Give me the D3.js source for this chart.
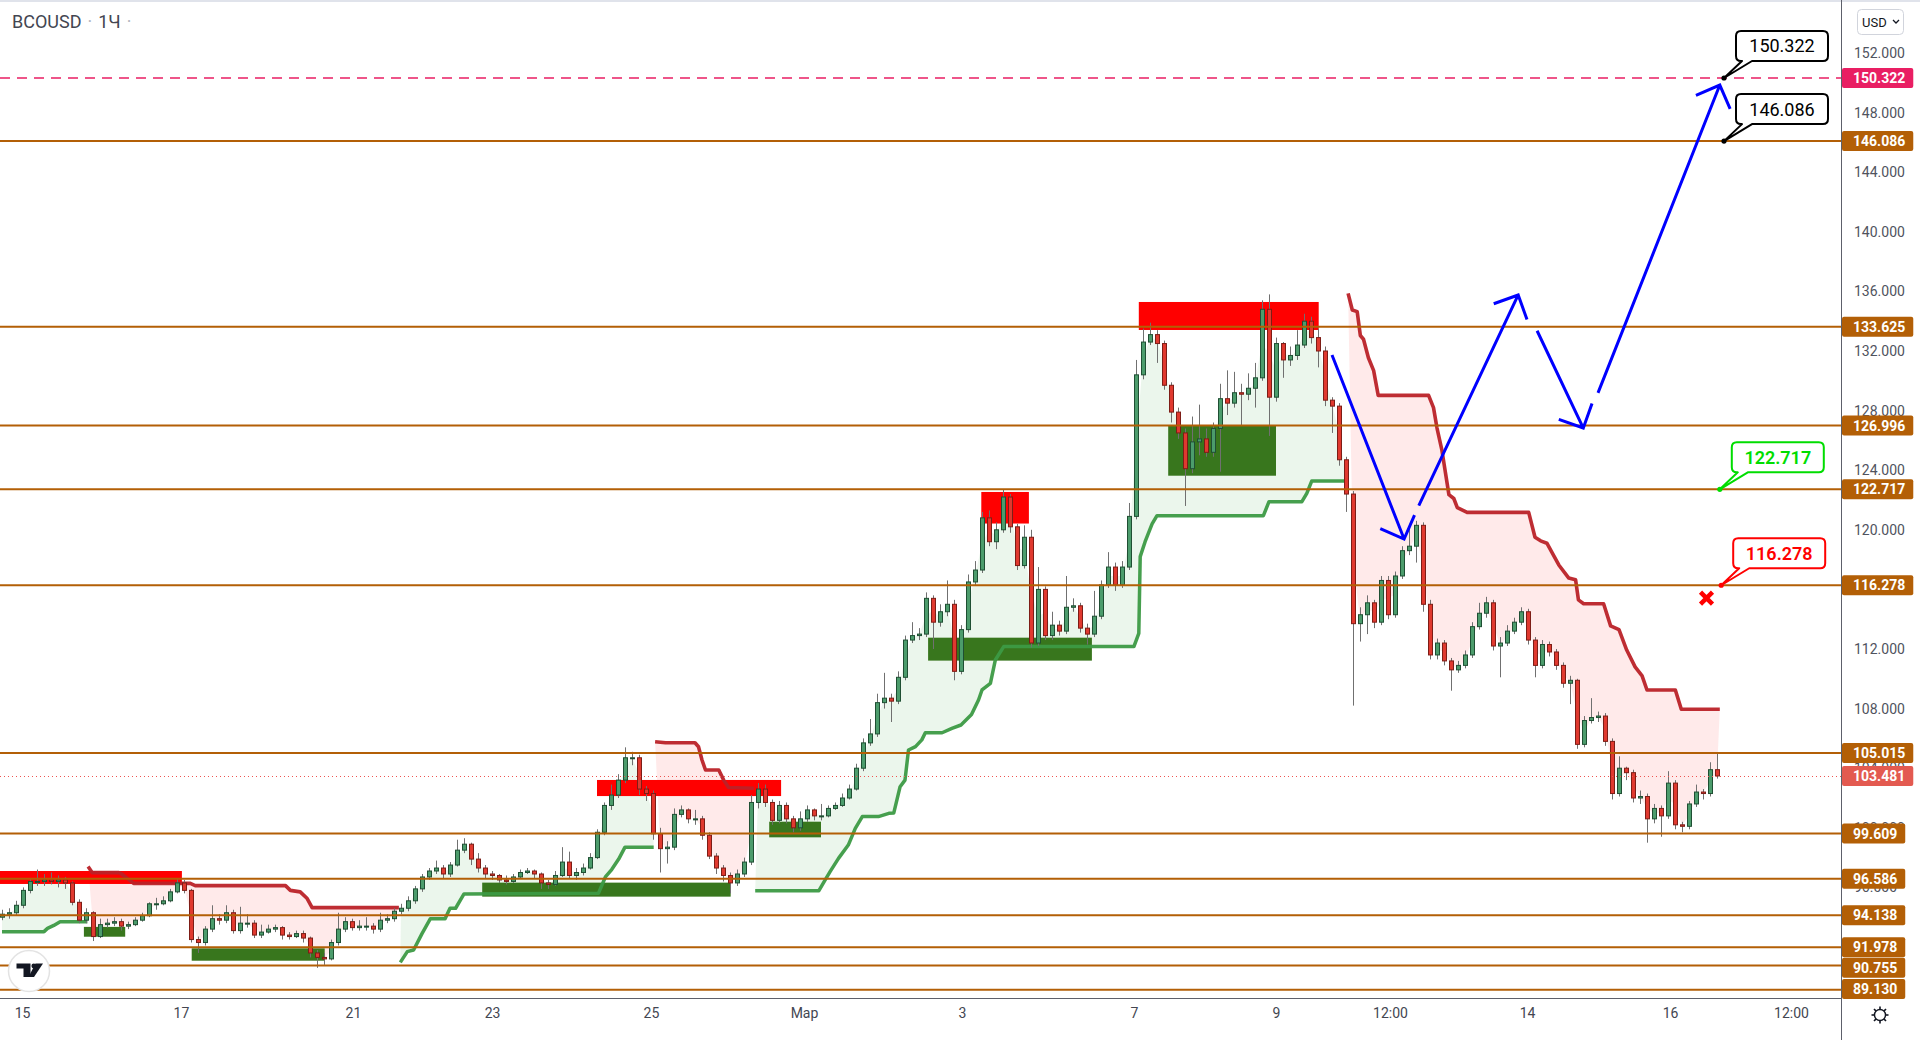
<!DOCTYPE html>
<html><head><meta charset="utf-8"><title>BCOUSD 1H</title>
<script src="https://cdn.jsdelivr.net/npm/d3@7/dist/d3.min.js"></script>
<style>
html,body{margin:0;padding:0;background:#fff;overflow:hidden;}
svg{display:block;font-family:Roboto,'Noto Sans',sans-serif;}
</style></head><body>
<svg id="chart" width="1920" height="1040"></svg>
<script>
// ---------- DATA (2-hour bars) ----------
const firstOpen = 94.0;
const closes = [
94.2,94.3,94.8,95.8,96.4,96.4,96.5,96.4,96.5,96.3,
95.0,93.8,94.3,92.7,93.5,93.6,93.7,93.4,93.5,93.8,
94.1,94.9,94.9,95.1,95.7,96.3,95.8,92.5,92.3,93.2,
93.9,93.8,94.3,93.1,93.6,93.6,92.8,93.0,93.2,93.3,
92.8,92.7,92.9,92.6,91.6,91.3,91.2,92.3,93.2,93.7,
93.3,93.4,93.4,93.2,93.8,93.9,94.4,94.6,95.1,95.9,
96.7,97.1,97.3,96.9,97.5,98.5,98.9,97.9,97.3,96.9,
96.8,96.5,96.4,96.7,97.0,97.1,96.9,96.3,96.2,96.8,
97.7,96.8,97.0,97.3,98.0,99.7,101.5,102.2,103.2,104.7,
104.7,102.6,102.3,99.6,98.6,98.7,100.9,101.2,100.6,100.6,
99.5,98.1,97.3,96.8,96.3,96.9,97.7,101.7,102.6,101.7,
100.5,101.5,100.6,100.0,100.6,101.2,100.8,100.8,101.3,101.5,
102.0,102.6,104.0,105.7,106.3,108.4,108.7,108.5,110.1,112.6,
112.9,113.0,115.4,113.8,114.5,115.0,110.5,113.3,116.5,117.3,
120.8,119.2,120.0,122.2,120.2,117.6,119.5,112.4,116.0,112.9,
113.6,113.2,114.8,114.9,113.4,113.0,114.2,116.3,117.5,116.3,
117.5,120.9,130.4,132.6,133.1,132.5,129.7,127.9,126.5,124.1,
125.9,126.1,125.2,126.8,128.8,128.5,129.2,129.1,129.5,130.2,
134.8,128.9,132.5,131.4,131.7,132.4,134.0,132.9,132.0,128.7,
128.3,124.7,122.4,113.7,114.3,115.1,113.8,116.6,114.3,116.9,
118.6,118.9,120.3,115.0,111.6,112.4,111.2,110.6,110.9,111.6,
113.5,114.4,115.1,112.2,112.4,113.2,113.8,114.5,112.6,110.9,
112.3,111.8,110.9,109.7,109.9,105.6,107.2,107.4,107.5,105.8,
102.3,104.0,103.7,102.0,102.1,100.6,101.3,100.8,103.0,100.2,
100.1,101.6,102.4,102.3,103.9,103.48];
const highs = [
94.5,94.6,95.1,96.0,96.6,97.2,96.9,97.0,96.8,96.7,
96.4,95.2,94.6,94.4,93.9,93.9,94.0,93.9,93.7,94.0,
94.3,95.0,95.3,95.4,95.9,96.6,96.5,95.9,92.7,93.4,
94.8,94.2,94.8,94.5,94.7,94.2,93.8,93.5,93.5,93.5,
93.4,93.0,93.1,93.1,92.7,91.8,91.6,92.5,94.3,94.0,
93.9,93.8,94.0,93.6,94.3,94.2,94.6,94.9,95.4,96.1,
96.9,97.3,97.8,97.5,97.7,99.2,99.3,99.0,98.3,97.5,
97.1,96.9,96.8,96.9,97.2,97.3,97.2,97.0,96.5,97.1,
98.7,98.4,97.3,97.6,98.3,99.9,101.7,102.9,103.6,105.4,
105.1,104.9,102.8,102.5,100.0,99.1,101.3,101.5,101.3,101.2,
100.8,99.7,98.3,97.5,97.0,97.2,98.0,102.2,103.0,102.9,
101.9,101.8,101.7,100.8,101.1,101.5,101.3,101.6,101.5,101.7,
102.3,102.9,104.3,106.0,107.3,109.0,110.4,109.0,110.5,112.9,
113.8,113.4,115.8,115.6,115.0,116.6,115.3,113.6,117.0,117.9,
121.2,121.3,120.5,122.7,122.4,120.4,120.3,120.0,117.5,116.2,
114.5,113.9,116.9,115.4,115.1,113.7,115.9,116.6,118.5,117.8,
117.9,121.8,131.4,133.5,133.9,133.4,132.7,129.9,128.2,126.8,
127.6,128.4,126.8,127.2,129.8,130.7,130.6,129.8,130.5,131.2,
135.4,135.8,132.9,132.6,132.3,133.4,134.5,134.3,133.5,132.3,
128.9,128.5,124.9,122.6,114.8,115.6,115.3,116.9,116.9,117.2,
118.9,120.4,120.6,120.5,115.3,112.7,112.6,111.4,111.2,111.9,
113.8,115.1,115.5,115.3,112.8,113.6,114.1,114.8,114.7,112.8,
112.6,112.5,112.0,111.1,110.2,110.0,107.5,108.7,107.8,107.7,
106.0,104.8,104.1,103.9,102.5,102.3,101.6,101.5,103.8,103.2,
100.4,101.8,102.9,102.6,104.4,105.0];
const lows = [
93.8,93.9,94.1,94.6,95.6,96.1,96.1,96.2,96.0,95.9,
94.8,93.6,93.6,92.4,92.6,93.3,93.4,93.1,93.2,93.4,
93.7,94.0,94.5,94.8,95.0,95.6,95.6,92.3,91.6,92.1,
93.0,93.5,93.6,92.9,92.9,93.3,92.6,92.6,92.9,93.0,
92.5,92.5,92.6,92.3,91.3,90.6,90.8,91.1,92.1,93.0,
93.1,93.1,93.1,92.9,93.0,93.6,93.7,94.2,94.4,94.9,
95.7,96.5,96.9,96.6,96.7,97.4,98.3,97.5,97.0,96.6,
96.5,96.3,96.2,96.3,96.6,96.9,96.6,95.9,95.9,96.1,
96.7,96.6,96.5,96.8,97.2,97.9,99.5,101.2,102.0,103.0,
104.2,102.2,101.8,99.2,97.0,97.6,98.5,100.7,100.3,100.2,
99.2,97.9,96.9,96.4,95.6,96.1,96.7,97.5,101.3,101.4,
100.2,100.3,100.3,99.7,99.8,100.4,100.5,100.5,100.7,101.2,
101.4,101.9,102.5,103.8,105.5,106.1,108.0,107.1,108.3,109.9,
112.4,112.6,112.8,112.0,113.5,114.2,109.9,110.3,113.1,116.3,
117.1,118.9,118.7,119.8,119.8,117.3,117.4,112.1,112.2,112.6,
112.6,112.9,113.0,114.5,113.1,112.3,112.8,114.0,116.1,115.9,
116.1,117.3,120.7,130.1,132.4,131.2,129.4,127.2,126.1,121.6,
123.8,125.0,124.9,124.9,123.9,127.7,128.2,127.0,128.7,128.2,
130.0,126.3,128.6,130.2,131.0,131.4,132.2,132.5,130.9,128.3,
126.5,124.3,121.2,108.2,112.5,113.0,113.4,113.6,114.0,114.1,
116.7,118.3,117.8,114.5,111.3,111.3,110.9,109.2,110.4,110.7,
111.4,113.3,114.1,111.9,110.1,112.2,113.0,113.6,112.3,110.1,
110.7,111.5,110.6,109.4,108.3,105.3,105.4,107.0,107.1,105.5,
101.9,102.1,103.2,101.7,101.6,99.0,100.3,99.4,100.6,99.9,
99.7,99.9,101.4,101.9,102.1,103.3];

// horizontal levels
const levels = [146.086,133.625,126.996,122.717,116.278,105.015,99.609,96.586,94.138,91.978,90.755,89.130];
const targetLevel = 150.322;
const lastPrice = 103.481;

// axis ticks (92 and 116 sit fully under level labels in the reference)
const yTicks = [96,100,104,108,112,120,124,128,132,136,140,144,148,152];
const xTickLabels = ["15","17","21","23","25","Мар","3","7","9","12:00","14","16","12:00"];
const xTickIdx = [2.86,25.57,50.14,70.0,92.71,114.57,137.14,161.71,182.0,198.29,217.86,238.29,255.57];

// zones: [startBar, endBar, lowPrice, highPrice]
const supplyZones = [[-0.3,25.7,96.23,97.10],[85.0,111.3,102.13,103.21],[139.9,146.7,120.42,122.54],[162.4,188.1,133.41,135.29]];
const demandZones = [[11.7,17.6,92.69,93.35],[27.1,46.1,91.08,91.91],[68.6,104.1,95.38,96.32],[109.6,117.0,99.36,100.41],[132.3,155.7,111.22,112.76],[166.6,182.0,123.63,126.99]];

// trailing stop segments [bar, price]
const greenStops = [
 [[0,93.03],[6,93.03],[6.5,93.25],[7.4,93.45],[8.3,93.7],[12.2,93.7]],
 [[56.9,90.97],[57.9,91.69],[58.8,91.8],[60,92.9],[61.2,93.9],[63.3,93.9],[64,94.6],[64.8,94.6],[66,95.56],[85.2,95.6],[86.2,96.7],[87.1,97.2],[88.1,97.9],[89.0,98.7],[93.1,98.7]],
 [[107.6,95.78],[116.7,95.78],[117.6,96.5],[118.3,97.06],[119.5,97.95],[120.9,98.84],[121.9,99.96],[122.9,100.75],[125.2,100.75],[126.7,100.97],[127.4,101.0],[128.3,102.76],[129.0,103.2],[129.5,105.22],[130.5,105.45],[131.4,105.9],[131.9,106.38],[134.3,106.38],[135.7,106.67],[137.0,106.9],[138.5,107.6],[139.5,108.58],[140.0,109.25],[141.2,109.7],[141.9,111.26],[143.1,112.16],[161.7,112.16],[162.4,113.05],[162.6,118.2],[163.3,119.2],[164.3,120.4],[165.0,120.95],[180.2,120.95],[181.0,121.89],[185.7,121.89],[186.4,122.45],[187.1,123.27],[192.1,123.27]]
];
const redStops = [
 [[12.3,97.4],[12.9,96.99],[16.7,96.99],[17.1,96.9],[17.9,96.6],[18.8,96.27],[26.9,96.27],[27.6,96.12],[40.5,96.12],[41.2,95.8],[42.6,95.7],[43.6,95.25],[44.3,94.64],[56.7,94.64]],
 [[93.3,105.78],[94.8,105.71],[99.0,105.71],[99.5,105.44],[100.0,104.55],[100.5,103.88],[102.4,103.88],[103.1,103.2],[103.8,102.7],[107.4,102.65]],
 [[192.3,135.87],[192.9,134.75],[193.6,134.64],[194.05,133.04],[194.5,132.79],[195.2,131.55],[195.95,130.68],[196.6,129.02],[203.8,129.02],[204.5,128.2],[205.0,126.83],[205.7,125.34],[206.7,122.36],[207.4,122.1],[207.9,121.49],[209.3,121.17],[218.1,121.17],[219.0,119.5],[219.8,119.26],[220.7,119.1],[221.4,118.5],[222.4,117.64],[223.8,116.77],[224.8,116.65],[225.2,115.3],[225.95,115.04],[228.8,115.04],[229.8,113.55],[231.0,113.3],[232.1,111.93],[233.3,110.8],[234.3,110.2],[235.0,109.25],[239.05,109.25],[239.9,107.96],[245.4,107.96]]
];

// forecast arrows [bar, price] -> [bar, price]
const arrows = [
 [[190.0,131.73],[200.3,119.38]],
 [[202.4,121.62],[216.6,135.76]],
 [[219.3,133.36],[225.9,126.83]],
 [[228.0,129.19],[245.4,149.85]]
];
const callouts = [
 {text:"150.322", bar:246.0, price:150.322, color:"#000000", weight:400},
 {text:"146.086", bar:246.0, price:146.086, color:"#000000", weight:400},
 {text:"122.717", bar:245.4, price:122.717, color:"#00dd00", weight:600},
 {text:"116.278", bar:245.6, price:116.278, color:"#ff0000", weight:600}
];
const crossMark = [243.5, 115.42];

// ---------- CHART ----------
const W = 1920, H = 1040, plotR = 1841, plotB = 998;
const levelColor = "#b35f06";
const svg = d3.select("#chart");
const x = d3.scaleLinear().domain([0, 263]).range([2, 1843]);
const y = d3.scaleLinear().domain([88.577, 155.557]).range([plotB, 0]);

const bars = closes.map((c, i) => {
  const o = i ? closes[i-1] : firstOpen;
  return {i, o, c, h: Math.max(highs[i], o, c), l: Math.min(lows[i], o, c)};
});

svg.append("rect").attr("width", W).attr("height", H).attr("fill", "#fff");
svg.append("defs").append("clipPath").attr("id", "plotClip")
  .append("rect").attr("x", 0).attr("y", 0).attr("width", plotR).attr("height", plotB);

const plot = svg.append("g").attr("clip-path", "url(#plotClip)");
const line = d3.line().x(d => x(d[0])).y(d => y(d[1]));

// fills between stop lines and price
function fillPoly(seg) {
  const s = seg[0][0], e = seg[seg.length-1][0];
  const mids = [];
  for (let k = Math.floor(e); k >= Math.ceil(s); k--) {
    if (bars[k]) mids.push([k, (bars[k].o + bars[k].c) / 2]);
  }
  return seg.concat(mids);
}
plot.append("g").selectAll("path").data(greenStops).join("path")
  .attr("d", d => line(fillPoly(d)) + "Z").attr("fill", "rgba(76,175,80,0.11)");
plot.append("g").selectAll("path").data(redStops).join("path")
  .attr("d", d => line(fillPoly(d)) + "Z").attr("fill", "rgba(255,82,82,0.12)");

// zones
function zoneRects(g, data, color) {
  g.selectAll("rect").data(data).join("rect")
    .attr("x", d => x(d[0])).attr("width", d => x(d[1]) - x(d[0]))
    .attr("y", d => y(d[3])).attr("height", d => y(d[2]) - y(d[3]))
    .attr("fill", color);
}
zoneRects(plot.append("g"), supplyZones, "#ff0000");
zoneRects(plot.append("g"), demandZones, "#38761d");

// stop lines
plot.append("g").selectAll("path").data(greenStops).join("path")
  .attr("d", line).attr("fill", "none").attr("stroke", "#3c9a45").attr("stroke-width", 3.5)
  .attr("stroke-linejoin", "round").attr("stroke-opacity", 0.95);
plot.append("g").selectAll("path").data(redStops).join("path")
  .attr("d", line).attr("fill", "none").attr("stroke", "#bb2228").attr("stroke-width", 3.6)
  .attr("stroke-linejoin", "round").attr("stroke-opacity", 0.95);

// candles
const cg = plot.append("g");
cg.selectAll("line").data(bars).join("line")
  .attr("x1", d => x(d.i) + 0.5).attr("x2", d => x(d.i) + 0.5)
  .attr("y1", d => y(d.h)).attr("y2", d => y(d.l))
  .attr("stroke", "#707070").attr("stroke-width", 1);
cg.selectAll("rect").data(bars).join("rect")
  .attr("x", d => x(d.i) - 1.5).attr("width", 4)
  .attr("y", d => y(Math.max(d.o, d.c)))
  .attr("height", d => Math.max(1, Math.abs(y(d.o) - y(d.c))))
  .attr("fill", d => d.c >= d.o ? "#4c9c6c" : "#e0392f")
  .attr("stroke", d => d.c >= d.o ? "#1f4f33" : "#7d1d16").attr("stroke-width", 1);

// level lines
plot.append("g").selectAll("line").data(levels).join("line")
  .attr("x1", 0).attr("x2", plotR).attr("y1", d => y(d)).attr("y2", d => y(d))
  .attr("stroke", levelColor).attr("stroke-width", 2);
plot.append("line").attr("x1", 0).attr("x2", plotR).attr("y1", y(targetLevel)).attr("y2", y(targetLevel))
  .attr("stroke", "#e91e63").attr("stroke-width", 1.6).attr("stroke-dasharray", "10,7");
plot.append("line").attr("x1", 0).attr("x2", plotR).attr("y1", Math.round(y(lastPrice)) + 0.5).attr("y2", Math.round(y(lastPrice)) + 0.5)
  .attr("stroke", "#ef5350").attr("stroke-width", 1).attr("stroke-dasharray", "1,3");

// arrows
const ag = plot.append("g");
arrows.forEach(a => {
  const p0 = [x(a[0][0]), y(a[0][1])], p1 = [x(a[1][0]), y(a[1][1])];
  const ang = Math.atan2(p0[1] - p1[1], p0[0] - p1[0]);
  const L = 26, s = Math.PI / 4;
  const b1 = [p1[0] + L * Math.cos(ang + s), p1[1] + L * Math.sin(ang + s)];
  const b2 = [p1[0] + L * Math.cos(ang - s), p1[1] + L * Math.sin(ang - s)];
  ag.append("path")
    .attr("d", `M${p0}L${p1}M${b1}L${p1}L${b2}`)
    .attr("fill", "none").attr("stroke", "#0000ff").attr("stroke-width", 3)
    .attr("stroke-linejoin", "miter");
});

// red cross
const cx0 = x(crossMark[0]), cy0 = y(crossMark[1]);
plot.append("path").attr("d", `M${cx0-6},${cy0-6}L${cx0+6},${cy0+6}M${cx0+6},${cy0-6}L${cx0-6},${cy0+6}`)
  .attr("stroke", "#ff0000").attr("stroke-width", 4.5).attr("fill", "none");

// callouts
const clg = plot.append("g");
callouts.forEach(d => {
  const ax = x(d.bar), ay = y(d.price);
  const bl = ax + 12, bw = 92, bb = ay - 17, bt = bb - 30, r = 5;
  const p = `M${bl+r},${bt}H${bl+bw-r}Q${bl+bw},${bt} ${bl+bw},${bt+r}V${bb-r}Q${bl+bw},${bb} ${bl+bw-r},${bb}` +
            `H${bl+16}L${ax},${ay}L${bl+6},${bb}H${bl+r}Q${bl},${bb} ${bl},${bb-r}V${bt+r}Q${bl},${bt} ${bl+r},${bt}Z`;
  clg.append("path").attr("d", p).attr("fill", "#fff").attr("stroke", d.color).attr("stroke-width", 2)
    .attr("stroke-linejoin", "round");
  clg.append("circle").attr("cx", ax).attr("cy", ay).attr("r", 2.6).attr("fill", d.color);
  clg.append("text").attr("x", bl + bw / 2).attr("y", (bt + bb) / 2).attr("dy", "0.36em")
    .attr("text-anchor", "middle").attr("fill", d.color).style("font-size", "18px")
    .style("font-weight", d.weight).text(d.text);
});

// TradingView logo
const logo = svg.append("g");
logo.append("circle").attr("cx", 29).attr("cy", 971).attr("r", 20.5).attr("fill", "#fff")
  .attr("stroke", "#e3e3e3").attr("stroke-width", 1.5);
logo.append("path").attr("d", "M16.5,963.5H30.5V977H23.5V968.5H16.5Z").attr("fill", "#131722");
logo.append("circle").attr("cx", 33.8).attr("cy", 966).attr("r", 2.4).attr("fill", "#131722");
logo.append("path").attr("d", "M35.5,963.5H43L34,977H28.5Z").attr("fill", "#131722");

// frame lines
svg.append("rect").attr("x", 0).attr("y", 0).attr("width", W).attr("height", 2).attr("fill", "#e0e3eb");
svg.append("line").attr("x1", plotR + 0.5).attr("x2", plotR + 0.5).attr("y1", 0).attr("y2", H)
  .attr("stroke", "#5d606b").attr("stroke-width", 1);
svg.append("line").attr("x1", 0).attr("x2", plotR).attr("y1", plotB + 0.5).attr("y2", plotB + 0.5)
  .attr("stroke", "#5d606b").attr("stroke-width", 1);

// price axis ticks
const yAxis = d3.axisRight(y).tickValues(yTicks).tickFormat(d3.format(".3f")).tickSize(0).tickPadding(13);
const yg = svg.append("g").attr("transform", `translate(${plotR},0)`).call(yAxis);
yg.select(".domain").remove();
yg.selectAll("text").style("font-size", "14px").style("font-family", "Roboto, sans-serif").attr("fill", "#50535e");

// time axis ticks
const xAxis = d3.axisBottom(x).tickValues(xTickIdx).tickFormat((d, k) => xTickLabels[k]).tickSize(0).tickPadding(10);
const xg = svg.append("g").attr("transform", `translate(0,${plotB})`).call(xAxis);
xg.select(".domain").remove();
xg.selectAll("text").style("font-size", "14px").style("font-family", "Roboto, sans-serif").attr("fill", "#434651");

// axis price labels (pushed apart top-down, as the price scale does)
const axisLabels = levels.map(v => ({v, bg: levelColor}))
  .concat([{v: targetLevel, bg: "#e91e63"}, {v: lastPrice, bg: "#e35a50"}]);
axisLabels.forEach(d => d.y = y(d.v));
axisLabels.sort((a, b) => a.y - b.y);
let prev = -Infinity;
axisLabels.forEach(d => { d.ly = Math.max(d.y, prev + 20.5); prev = d.ly; d.ly = Math.min(d.ly, plotB - 9); });
const lg = svg.append("g");
axisLabels.forEach(d => {
  const g = lg.append("g");
  const rect = g.append("rect");
  const t = g.append("text").attr("x", plotR + 12).attr("y", d.ly).attr("dy", "0.36em")
    .attr("fill", "#fff").style("font-size", "14px").style("font-weight", "700").text(d3.format(".3f")(d.v));
  const tw = t.node().getComputedTextLength();
  rect.attr("x", plotR + 1).attr("y", d.ly - 10).attr("width", tw + 19).attr("height", 20).attr("rx", 2).attr("fill", d.bg);
});

// title
const title = svg.append("text").attr("x", 12).attr("y", 28).style("font-size", "18px").attr("fill", "#434651");
title.append("tspan").text("BCOUSD");
title.append("tspan").attr("dx", 6).attr("fill", "#b2b5be").text("·");
title.append("tspan").attr("dx", 6).text("1Ч");
title.append("tspan").attr("dx", 6).attr("fill", "#b2b5be").text("·");

// currency selector
svg.append("rect").attr("x", 1857.5).attr("y", 9.5).attr("width", 46).attr("height", 25).attr("rx", 4)
  .attr("fill", "#fff").attr("stroke", "#d1d4dc");
svg.append("text").attr("x", 1862).attr("y", 27).style("font-size", "13px").attr("fill", "#131722").text("USD");
svg.append("path").attr("d", "M1893,20L1896,23L1899,20").attr("fill", "none").attr("stroke", "#131722").attr("stroke-width", 1.3);

// settings gear
const gear = svg.append("g").attr("transform", "translate(1880,1015)");
gear.append("circle").attr("r", 5.5).attr("fill", "none").attr("stroke", "#131722").attr("stroke-width", 1.4);
d3.range(8).forEach(k => {
  const a = k * Math.PI / 4;
  gear.append("line").attr("x1", 5.5 * Math.cos(a)).attr("y1", 5.5 * Math.sin(a))
    .attr("x2", 8.5 * Math.cos(a)).attr("y2", 8.5 * Math.sin(a)).attr("stroke", "#131722").attr("stroke-width", 1.6);
});
</script></body></html>
